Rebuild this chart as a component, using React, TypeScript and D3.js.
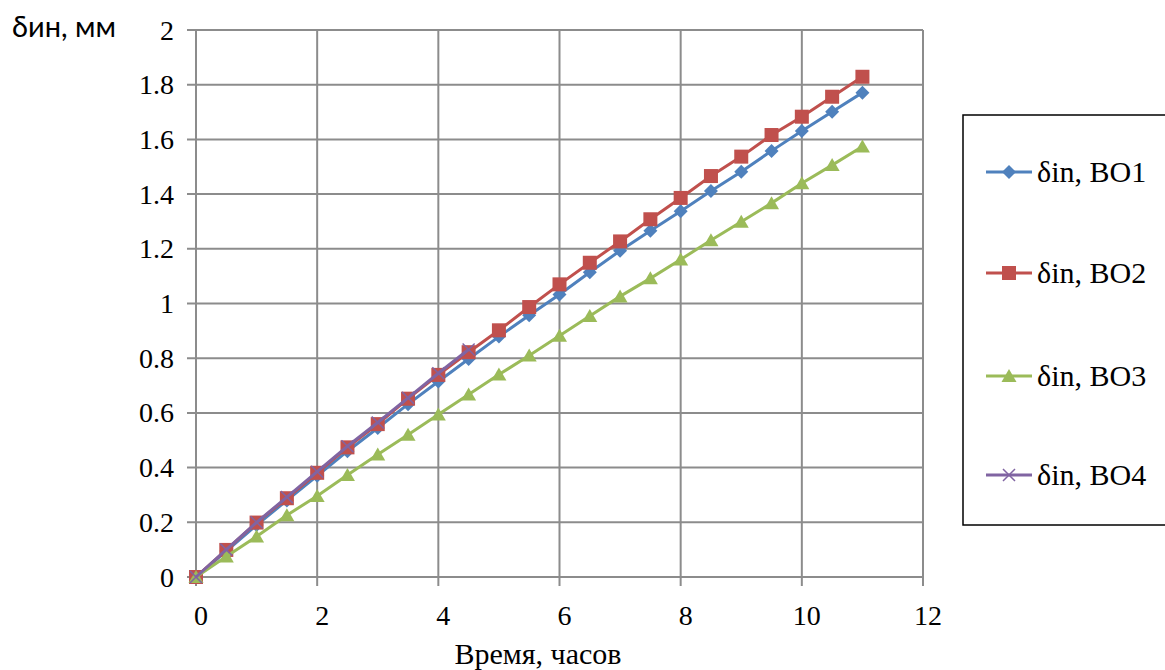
import * as d3 from 'd3';

const hours = [0, 0.5, 1, 1.5, 2, 2.5, 3, 3.5, 4, 4.5, 5, 5.5, 6, 6.5, 7, 7.5, 8, 8.5, 9, 9.5, 10, 10.5, 11];
const bo1 = [0, 0.095, 0.19, 0.28, 0.37, 0.46, 0.545, 0.632, 0.715, 0.797, 0.879, 0.957, 1.033, 1.114, 1.193, 1.266, 1.337, 1.411, 1.482, 1.558, 1.631, 1.701, 1.771];
const bo2 = [0, 0.099, 0.199, 0.288, 0.381, 0.474, 0.559, 0.652, 0.739, 0.822, 0.902, 0.987, 1.07, 1.149, 1.227, 1.308, 1.386, 1.466, 1.537, 1.616, 1.683, 1.756, 1.829];
const bo3 = [0, 0.075, 0.148, 0.226, 0.296, 0.373, 0.448, 0.52, 0.594, 0.667, 0.74, 0.81, 0.882, 0.954, 1.026, 1.092, 1.161, 1.231, 1.299, 1.367, 1.44, 1.506, 1.574];
const bo4 = [0, 0.1, 0.2, 0.292, 0.385, 0.478, 0.565, 0.655, 0.745, 0.832];

const xTicks = [0, 2, 4, 6, 8, 10, 12];
const yTicks = [0, 0.2, 0.4, 0.6, 0.8, 1, 1.2, 1.4, 1.6, 1.8, 2];

const seriesNames = ['δin, BO1', 'δin, BO2', 'δin, BO3', 'δin, BO4'];
const seriesColors = ['#4F81BD', '#C0504D', '#9BBB59', '#8064A2'];
const seriesMarkers = ['diamond', 'square', 'triangle', 'cross'];
const seriesValues = [bo1, bo2, bo3, bo4];

const W = 1165;
const H = 670;
const plot = { left: 196, right: 923, top: 30, bottom: 577 };
const FS = 28;

const Marker = ({ kind, color }: { kind: string; color: string }) => {
  if (kind === 'diamond') return <path d="M0,-7L7,0L0,7L-7,0Z" fill={color} />;
  if (kind === 'square') return <rect x={-7} y={-7} width={14} height={14} fill={color} />;
  if (kind === 'triangle') return <path d="M0,-7L7.5,6L-7.5,6Z" fill={color} />;
  return <path d="M-6,-6L6,6M-6,6L6,-6" stroke={color} strokeWidth={1.5} />;
};

export default function App() {
  const x = d3.scaleLinear().domain([0, 12]).range([plot.left, plot.right]);
  const y = d3.scaleLinear().domain([0, 2]).range([plot.bottom, plot.top]);
  const line = d3.line<[number, number]>().x(d => x(d[0])).y(d => y(d[1]));

  const legendY = [172, 273, 376, 475];

  return (
    <svg width={W} height={H} style={{ position: 'absolute', left: 0, top: 0 }}>
      <style>{`.serif { font-family: 'Liberation Serif', 'DejaVu Serif', serif; } .sans { font-family: Lato, sans-serif; }`}</style>
      <rect width={W} height={H} fill="#fff" />
      <g stroke="#8c8c8c" strokeWidth={2}>
        {yTicks.map(t => (
          <line key={'y' + t} x1={plot.left - 9} x2={plot.right} y1={y(t)} y2={y(t)} />
        ))}
        {xTicks.map(t => (
          <line key={'x' + t} x1={x(t)} x2={x(t)} y1={plot.top} y2={plot.bottom + 9} />
        ))}
      </g>
      {yTicks.map(t => (
        <text key={'yl' + t} className="serif" x={174} y={y(t) + 9.5} textAnchor="end" fontSize={FS}>
          {d3.format('~g')(t)}
        </text>
      ))}
      {xTicks.map(t => (
        <text key={'xl' + t} className="serif" x={x(t) + 5} y={625} textAnchor="middle" fontSize={FS}>
          {t}
        </text>
      ))}
      <text className="serif" x={538} y={664} textAnchor="middle" fontSize={30}>Время, часов</text>
      <text className="sans" x={12} y={37} fontSize={29}>δин, мм</text>
      {seriesValues.map((vals, i) => {
        const pts = vals.map((v, j) => [hours[j], v] as [number, number]);
        return (
          <g key={seriesNames[i]}>
            <path d={line(pts) ?? ''} fill="none" stroke={seriesColors[i]} strokeWidth={3} />
            {pts.map((p, j) => (
              <g key={j} transform={`translate(${x(p[0])},${y(p[1])})`}>
                <Marker kind={seriesMarkers[i]} color={seriesColors[i]} />
              </g>
            ))}
          </g>
        );
      })}
      <rect x={963} y={115} width={210} height={410} fill="none" stroke="#000" strokeWidth={1.5} />
      {seriesNames.map((name, i) => (
        <g key={'lg' + i}>
          <line x1={986} x2={1032} y1={legendY[i]} y2={legendY[i]} stroke={seriesColors[i]} strokeWidth={3} />
          <g transform={`translate(1009,${legendY[i]})`}>
            <Marker kind={seriesMarkers[i]} color={seriesColors[i]} />
          </g>
          <text className="serif" x={1037} y={legendY[i] + 10} fontSize={30}>{name}</text>
        </g>
      ))}
    </svg>
  );
}
